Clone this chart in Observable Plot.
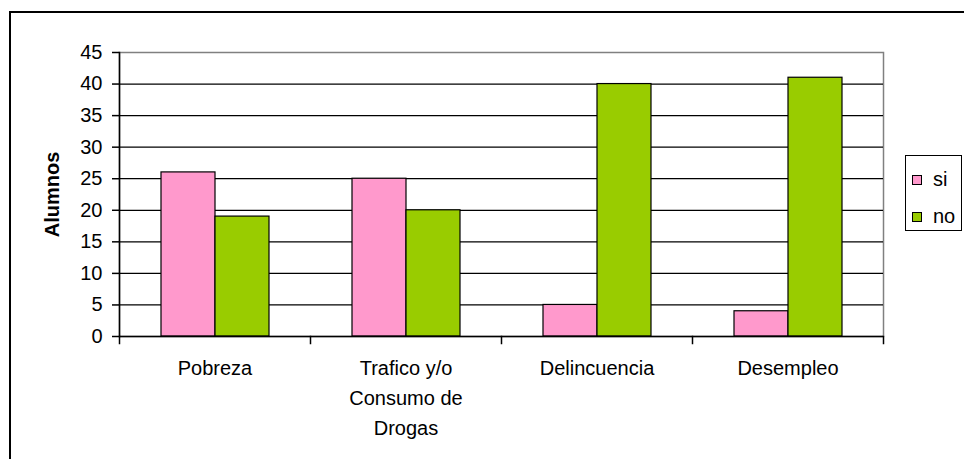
<!DOCTYPE html>
<html><head><meta charset="utf-8">
<script src="https://cdn.jsdelivr.net/npm/d3@7"></script>
<script src="https://cdn.jsdelivr.net/npm/@observablehq/plot@0.6"></script>
<style>
html,body{margin:0;padding:0;background:#fff;overflow:hidden;}
#wrap{position:relative;width:964px;height:459px;font-family:"Liberation Sans",Arial,sans-serif;}
#border{position:absolute;left:9px;top:11px;width:990px;height:490px;border:2px solid #000;box-sizing:border-box;pointer-events:none;}
#legend{position:absolute;left:905px;top:155px;width:57px;height:76px;border:1px solid #000;box-sizing:border-box;background:#fff;font-size:20px;color:#000;}
.item{position:absolute;left:6px;height:20px;line-height:20px;white-space:nowrap;}
.sw{display:inline-block;width:8px;height:8px;border:1px solid #000;vertical-align:middle;margin-right:11px;position:relative;top:-1px;}
g[aria-label="y-axis label"] text{font-weight:bold;}
svg{position:absolute;left:0;top:0;}
</style>
</head><body>
<div id="wrap"><div id="border"></div></div>
<script>
const categories = ["Pobreza", "Trafico y/o Consumo de Drogas", "Delincuencia", "Desempleo"];
const categoryLabels = ["Pobreza", "Trafico y/o\nConsumo de\nDrogas", "Delincuencia", "Desempleo"];
const seriesNames = ["si", "no"];
const siValues = [26, 25, 5, 4];
const noValues = [19, 20, 40, 41];
const yTicks = [0, 5, 10, 15, 20, 25, 30, 35, 40, 45];
const colors = ["#FF99CC", "#99CC00"];

const data = categories.flatMap((c, i) => [
  {cat: c, series: seriesNames[0], value: siValues[i]},
  {cat: c, series: seriesNames[1], value: noValues[i]}
]);

const W = 964, H = 459, mL = 118, mR = 80, mT = 52, mB = 123;
const plotH = H - mT - mB;

const chart = Plot.plot({
  width: W, height: H,
  marginLeft: mL, marginRight: mR, marginTop: mT, marginBottom: mB,
  style: {fontFamily: "'Liberation Sans', Arial, sans-serif", fontSize: "20px", color: "#000", background: "transparent", overflow: "visible"},
  fx: {domain: categories, padding: 0, axis: null},
  x: {domain: seriesNames, paddingInner: 0, paddingOuter: 0.74, axis: null},
  y: {domain: [0, 45], axis: null},
  color: {domain: seriesNames, range: colors},
  marks: [
    Plot.frame({facet: "super", stroke: "#808080", strokeWidth: 1.5}),
    Plot.ruleY(yTicks.filter(v => v > 0 && v < 45), {stroke: "#000", strokeWidth: 1.3}),
    Plot.barY(data, {fx: "cat", x: "series", y: "value", fill: "series", stroke: "#000", strokeWidth: 1.2}),
    Plot.ruleY([0], {stroke: "#000", strokeWidth: 1.5}),
    Plot.frame({facet: "super", anchor: "left", stroke: "#000", strokeWidth: 1.5}),
    Plot.frame({anchor: "left", insetTop: plotH, insetBottom: -7, stroke: "#000", strokeWidth: 1.5}),
    Plot.frame({facet: "super", anchor: "right", insetTop: plotH, insetBottom: -7, stroke: "#000", strokeWidth: 1.5}),
    Plot.axisY({ticks: yTicks, tickSize: 7, tickPadding: 10, label: "Alumnos", labelAnchor: "center", labelOffset: 75, labelArrow: "none", strokeWidth: 1.5}),
    Plot.axisFx({anchor: "bottom", tickSize: 0, tickPadding: 17, tickFormat: d => categoryLabels[categories.indexOf(d)], lineHeight: 1.5, label: null})
  ]
});
document.getElementById("wrap").appendChild(chart);

const legend = document.createElement("div");
legend.id = "legend";
seriesNames.forEach((s, i) => {
  const it = document.createElement("div");
  it.className = "item";
  it.style.top = (i === 0 ? 13 : 50) + "px";
  const sw = document.createElement("span");
  sw.className = "sw";
  sw.style.background = colors[i];
  it.appendChild(sw);
  it.appendChild(document.createTextNode(s));
  legend.appendChild(it);
});
document.getElementById("wrap").appendChild(legend);
</script>
</body></html>
